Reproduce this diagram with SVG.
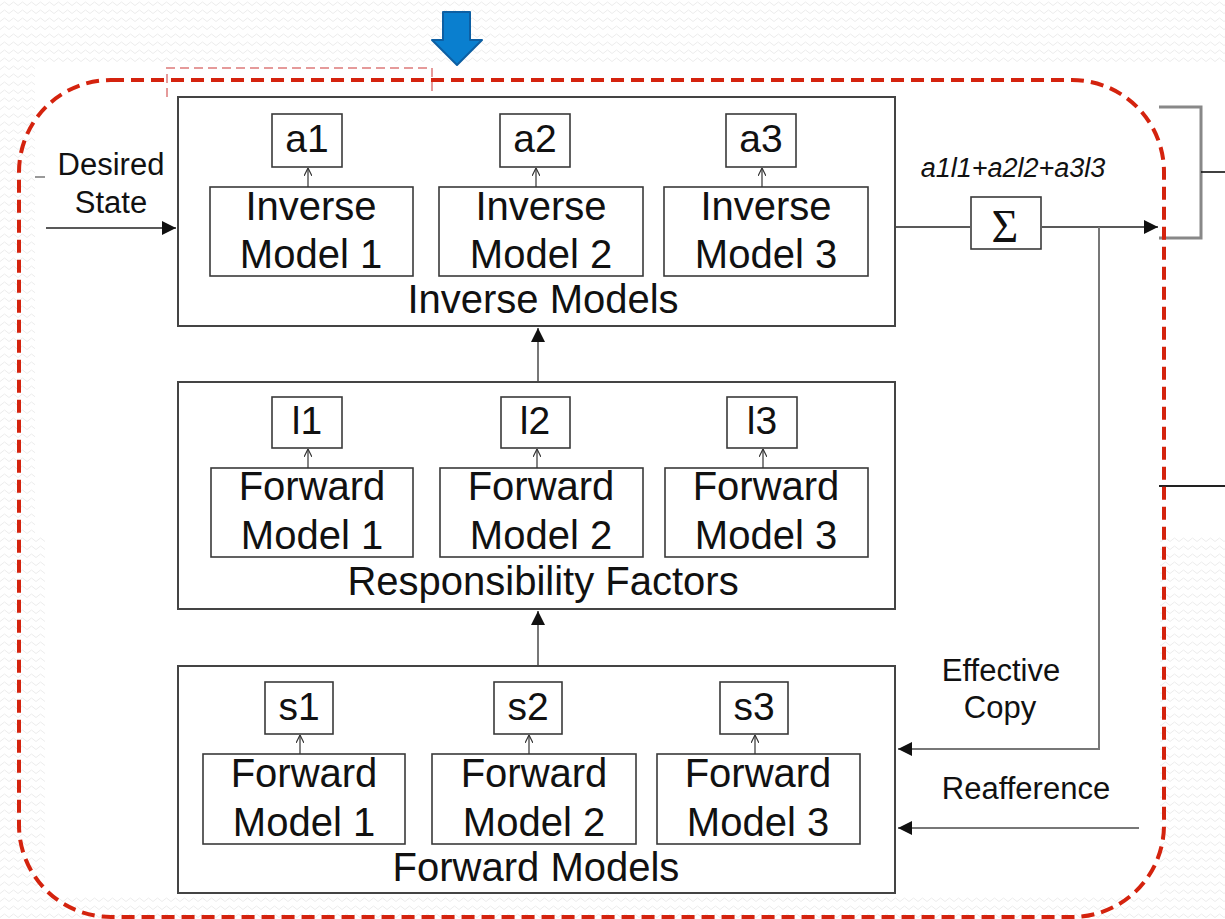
<svg xmlns="http://www.w3.org/2000/svg" width="1225" height="919" viewBox="0 0 1225 919">
<style>
  .t { font-family: "Liberation Sans", Arial, sans-serif; fill: #111; text-anchor: middle; }
  .big { font-size: 40px; }
  .mid { font-size: 39px; }
  .lab { font-size: 31px; }
  .main { fill: #fff; stroke: #444; stroke-width: 2; }
  .sub { fill: #fff; stroke: #3a3a3a; stroke-width: 1.6; }
  .thin { stroke: #333; stroke-width: 1.2; fill: none; }
  .conn { stroke: #222; stroke-width: 1.6; fill: none; }
  .gconn { stroke: #777; stroke-width: 2; fill: none; }
</style>
<defs>
  <pattern id="zz" width="9" height="8" patternUnits="userSpaceOnUse">
    <path d="M0 5.5 L4.5 2 L9 5.5" fill="none" stroke="#ececec" stroke-width="1"/>
  </pattern>
  <marker id="fa" viewBox="0 0 10 10" refX="10" refY="5" markerWidth="14" markerHeight="14" markerUnits="userSpaceOnUse" orient="auto">
    <path d="M0 0 L10 5 L0 10 Z" fill="#111"/>
  </marker>
  <marker id="fb" viewBox="0 0 10 10" refX="10" refY="5" markerWidth="16" markerHeight="14" markerUnits="userSpaceOnUse" orient="auto">
    <path d="M0 0 L10 5 L0 10 Z" fill="#111"/>
  </marker>
  <marker id="oa" viewBox="0 0 10 10" refX="10" refY="5" markerWidth="8" markerHeight="8" markerUnits="userSpaceOnUse" orient="auto">
    <path d="M0 0 L10 5 L0 10" fill="none" stroke="#333" stroke-width="1.5"/>
  </marker>
</defs>

<!-- background -->
<rect x="0" y="0" width="1225" height="919" fill="#fff"/>
<rect x="0" y="0" width="1225" height="919" fill="url(#zz)"/>
<rect x="35" y="65" width="1190" height="469" fill="#fff"/>
<rect x="45" y="533" width="1115" height="364" fill="#fff"/>

<!-- blue arrow -->
<g id="blue-arrow">
  <path d="M443 12 L470 12 L470 40 L482 40 L457 65 L432 40 L443 40 Z" fill="#0a7fcf" stroke="#0d5fa3" stroke-width="2" stroke-linejoin="round"/>
</g>

<!-- faint dashed rect -->
<g id="faint-rect">
  <path d="M167 97 L167 68 L432 68 L432 97" fill="none" stroke="#e59a9a" stroke-width="2" stroke-dasharray="9 5"/>
</g>

<!-- Inverse Models -->
<g id="inverse-models">
  <rect x="178" y="97" width="717" height="229" class="main"/>
  <text x="543" y="313" class="t big">Inverse Models</text>
  <rect x="272" y="114" width="70" height="53" class="sub"/>
  <text x="307" y="152" class="t mid">a1</text>
  <rect x="500" y="114" width="70" height="53" class="sub"/>
  <text x="535" y="152" class="t mid">a2</text>
  <rect x="726" y="114" width="70" height="53" class="sub"/>
  <text x="761" y="152" class="t mid">a3</text>
  <rect x="210" y="187" width="203" height="89" class="sub"/>
  <text x="311" y="220" class="t big">Inverse</text>
  <text x="311" y="268" class="t big">Model 1</text>
  <rect x="439" y="187" width="204" height="89" class="sub"/>
  <text x="541" y="220" class="t big">Inverse</text>
  <text x="541" y="268" class="t big">Model 2</text>
  <rect x="664" y="187" width="204" height="89" class="sub"/>
  <text x="766" y="220" class="t big">Inverse</text>
  <text x="766" y="268" class="t big">Model 3</text>
</g>

<!-- Responsibility Factors -->
<g id="responsibility-factors">
  <rect x="178" y="382" width="717" height="227" class="main"/>
  <text x="543" y="595" class="t big">Responsibility Factors</text>
  <rect x="272" y="397" width="70" height="51" class="sub"/>
  <text x="307" y="434" class="t mid">l1</text>
  <rect x="501" y="397" width="69" height="51" class="sub"/>
  <text x="535" y="434" class="t mid">l2</text>
  <rect x="727" y="397" width="70" height="51" class="sub"/>
  <text x="762" y="434" class="t mid">l3</text>
  <rect x="211" y="468" width="202" height="89" class="sub"/>
  <text x="312" y="500" class="t big">Forward</text>
  <text x="312" y="549" class="t big">Model 1</text>
  <rect x="440" y="468" width="203" height="89" class="sub"/>
  <text x="541" y="500" class="t big">Forward</text>
  <text x="541" y="549" class="t big">Model 2</text>
  <rect x="665" y="468" width="203" height="89" class="sub"/>
  <text x="766" y="500" class="t big">Forward</text>
  <text x="766" y="549" class="t big">Model 3</text>
</g>

<!-- Forward Models -->
<g id="forward-models">
  <rect x="178" y="666" width="717" height="227" class="main"/>
  <text x="536" y="881" class="t big">Forward Models</text>
  <rect x="265" y="682" width="68" height="52" class="sub"/>
  <text x="299" y="720" class="t mid">s1</text>
  <rect x="494" y="682" width="68" height="52" class="sub"/>
  <text x="528" y="720" class="t mid">s2</text>
  <rect x="720" y="682" width="68" height="52" class="sub"/>
  <text x="754" y="720" class="t mid">s3</text>
  <rect x="203" y="754" width="202" height="90" class="sub"/>
  <text x="304" y="787" class="t big">Forward</text>
  <text x="304" y="836" class="t big">Model 1</text>
  <rect x="432" y="754" width="204" height="90" class="sub"/>
  <text x="534" y="787" class="t big">Forward</text>
  <text x="534" y="836" class="t big">Model 2</text>
  <rect x="657" y="754" width="203" height="90" class="sub"/>
  <text x="758" y="787" class="t big">Forward</text>
  <text x="758" y="836" class="t big">Model 3</text>
</g>

<!-- Sigma -->
<g id="sigma">
  <rect x="971" y="197" width="70" height="52" class="sub"/>
  <text x="1005" y="242" font-family="'Liberation Serif', 'Times New Roman', serif" font-size="46" text-anchor="middle" fill="#111">Σ</text>
</g>

<!-- connectors -->
<g id="connectors">
  <line x1="46" y1="228" x2="176" y2="228" class="conn" marker-end="url(#fa)"/>
  <line x1="538" y1="381" x2="538" y2="328" class="gconn" marker-end="url(#fa)"/>
  <line x1="538" y1="665" x2="538" y2="611" class="gconn" marker-end="url(#fa)"/>
  <line x1="896" y1="227" x2="970" y2="227" class="conn"/>
  <line x1="1042" y1="227" x2="1158" y2="227" class="conn" marker-end="url(#fb)"/>
  <polyline points="1099,227 1099,749 898,749" class="gconn" marker-end="url(#fb)"/>
  <line x1="1139" y1="828" x2="898" y2="828" class="gconn" marker-end="url(#fb)"/>
  <!-- inner arrows -->
  <line x1="308" y1="187" x2="308" y2="168" class="thin" marker-end="url(#oa)"/>
  <line x1="536" y1="187" x2="536" y2="168" class="thin" marker-end="url(#oa)"/>
  <line x1="762" y1="187" x2="762" y2="168" class="thin" marker-end="url(#oa)"/>
  <line x1="308" y1="468" x2="308" y2="449" class="thin" marker-end="url(#oa)"/>
  <line x1="537" y1="468" x2="537" y2="449" class="thin" marker-end="url(#oa)"/>
  <line x1="763" y1="468" x2="763" y2="449" class="thin" marker-end="url(#oa)"/>
  <line x1="300" y1="754" x2="300" y2="735" class="thin" marker-end="url(#oa)"/>
  <line x1="529" y1="754" x2="529" y2="735" class="thin" marker-end="url(#oa)"/>
  <line x1="755" y1="754" x2="755" y2="735" class="thin" marker-end="url(#oa)"/>
  <!-- right bracket -->
  <polyline points="1159,107 1201,107 1201,238 1159,238" fill="none" stroke="#888" stroke-width="3"/>
  <line x1="1201" y1="172" x2="1225" y2="172" stroke="#111" stroke-width="1.6"/>
  <line x1="1159" y1="486" x2="1225" y2="486" stroke="#222" stroke-width="2"/>
  <line x1="35" y1="177" x2="45" y2="177" stroke="#999" stroke-width="2"/>
</g>

<!-- labels -->
<g id="labels">
  <text x="111" y="175" class="t lab">Desired</text>
  <text x="111" y="213" class="t lab">State</text>
  <text x="1013" y="177" class="t" font-size="27" font-style="italic" fill="#222">a1l1+a2l2+a3l3</text>
  <text x="1001" y="681" class="t lab">Effective</text>
  <text x="1000" y="718" class="t lab">Copy</text>
  <text x="1026" y="799" class="t lab">Reafference</text>
</g>

<!-- red dashed boundary -->
<g id="boundary">
  <rect x="19" y="80" width="1145" height="837" rx="92" ry="92" fill="none" stroke="#d4230e" stroke-width="4" stroke-dasharray="13 7"/>
</g>
</svg>
